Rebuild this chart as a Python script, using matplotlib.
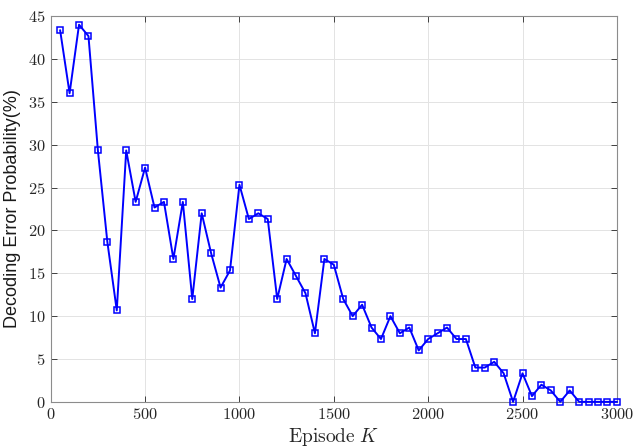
import numpy as np
import matplotlib.pyplot as plt
from matplotlib.ticker import FuncFormatter

plt.rcParams['mathtext.fontset'] = 'cm'

episodes = list(range(50, 3001, 50))
error_prob = [43.33, 36, 44, 42.67, 29.33, 18.67, 10.67, 29.33, 23.33, 27.33,
              22.67, 23.33, 16.67, 23.33, 12, 22, 17.33, 13.33, 15.33, 25.33,
              21.33, 22, 21.33, 12, 16.67, 14.67, 12.67, 8, 16.67, 16,
              12, 10, 11.33, 8.67, 7.33, 10, 8, 8.67, 6, 7.33,
              8, 8.67, 7.33, 7.33, 4, 4, 4.67, 3.33, 0, 3.33,
              0.67, 2, 1.33, 0, 1.33, 0, 0, 0, 0, 0]

fig = plt.figure(figsize=(6.34, 4.48), dpi=100)
ax = fig.add_axes([0.080, 0.103, 0.893, 0.861])

ax.plot(episodes, error_prob, color='blue', lw=1.4, marker='s', ms=4.5,
        mfc='none', mec='blue', mew=1.1, clip_on=False, zorder=3)

ax.set_xlim(0, 3000)
ax.set_ylim(0, 45)
ax.set_xticks(np.arange(0, 3001, 500))
ax.set_yticks(np.arange(0, 46, 5))
fmt = FuncFormatter(lambda v, p: r'$%d$' % v)
ax.xaxis.set_major_formatter(fmt)
ax.yaxis.set_major_formatter(fmt)
ax.tick_params(direction='in', top=True, right=True, labelsize=11.8,
               colors='#262626', length=4, width=0.6)
for s in ax.spines.values():
    s.set_color('#8c8c8c')
    s.set_linewidth(0.8)
ax.grid(True, color='#e3e3e3', lw=0.7)
ax.set_axisbelow(True)

ax.set_xlabel(r'$\mathrm{Episode}\ K$', fontsize=14, color='#262626', labelpad=3)
ax.set_ylabel('Decoding Error Probability(%)', fontsize=13, family='Liberation Sans',
              color='#1a1a1a', labelpad=5)

fig.savefig('out.png', dpi=100)
